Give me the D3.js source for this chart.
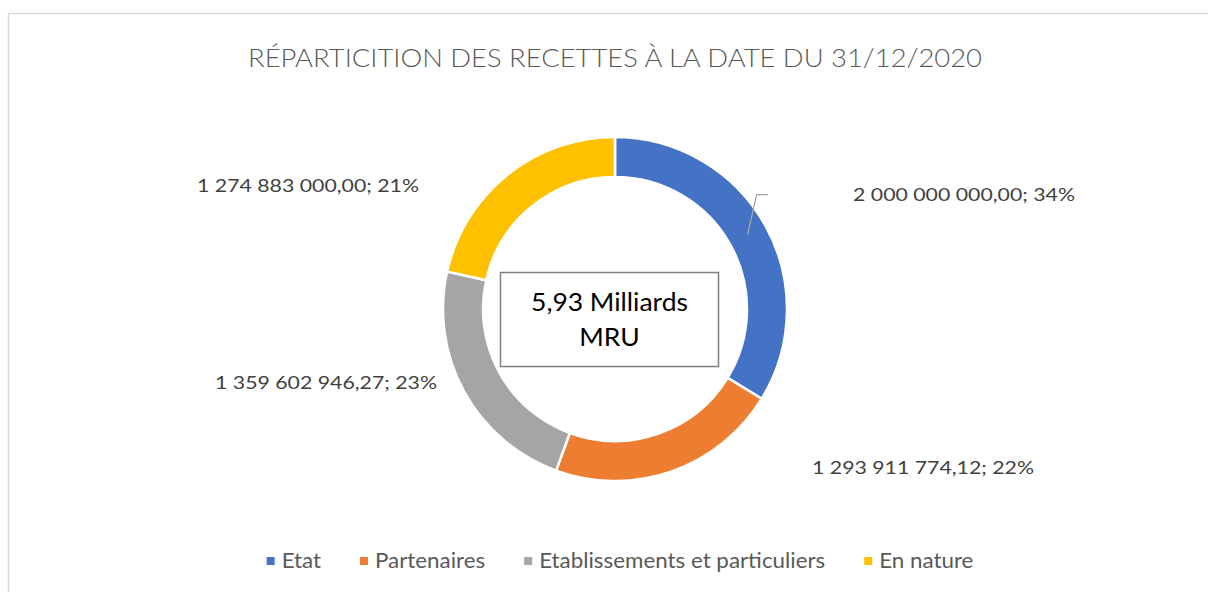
<!DOCTYPE html>
<html><head><meta charset="utf-8">
<script src="https://cdn.jsdelivr.net/npm/d3@7"></script>
<style>html,body{margin:0;padding:0;background:#fff;}svg{display:block;}</style>
</head><body>
<script>
const categories = ["Etat", "Partenaires", "Etablissements et particuliers", "En nature"];
const values = [2000000000.00, 1293911774.12, 1359602946.27, 1274883000.00];
const valueLabels = ["2 000 000 000,00", "1 293 911 774,12", "1 359 602 946,27", "1 274 883 000,00"];
const percentLabels = ["34%", "22%", "23%", "21%"];
const colors = ["#4472C4", "#ED7D31", "#A5A5A5", "#FFC000"];
const titleText = "RÉPARTICITION DES RECETTES À LA DATE DU 31/12/2020";
const centerLines = ["5,93 Milliards", "MRU"];

// layout (not data)
const W = 1208, H = 592;
const cx = 615, cy = 309, R = 172, r = 132;
// label placement: [anchor, dx, dy] relative to chart centre
const labelLayout = [["start", 238, -108], ["start", 197, 165], ["end", -178, 80], ["end", -196, -117]];

const svg = d3.select("body").append("svg").attr("width", W).attr("height", H);
svg.append("rect").attr("width", W).attr("height", H).attr("fill", "#fff");
svg.append("rect").attr("x", 8.5).attr("y", 13.5).attr("width", 1240).attr("height", 640)
  .attr("fill", "none").attr("stroke", "#d9d9d9").attr("stroke-width", 1.5);

svg.append("text").attr("x", 615).attr("y", 67).attr("text-anchor", "middle")
  .attr("font-family", "Lato, 'Open Sans', sans-serif").attr("font-weight", 300)
  .attr("font-size", 25).attr("fill", "#595959").attr("textLength", 734).attr("lengthAdjust", "spacingAndGlyphs")
  .text(titleText);

const pie = d3.pie().sort(null).value(d => d);
const arcs = pie(values);
const arc = d3.arc().innerRadius(r).outerRadius(R);
const g = svg.append("g").attr("transform", `translate(${cx},${cy})`);
g.selectAll("path.slice").data(arcs).join("path").attr("class", "slice")
  .attr("d", arc).attr("fill", (d, i) => colors[i]).attr("stroke", "#fff").attr("stroke-width", 2.5);

// leader line for first slice
const c0 = arc.centroid(arcs[0]);
g.append("polyline")
  .attr("points", [[c0[0], c0[1]], [c0[0] + 9, c0[1] - 40], [c0[0] + 20.5, c0[1] - 40]].map(p => p.join(",")).join(" "))
  .attr("fill", "none").attr("stroke", "#a6a6a6").attr("stroke-width", 1.3);

g.selectAll("text.lbl").data(arcs).join("text").attr("class", "lbl")
  .attr("x", (d, i) => labelLayout[i][1]).attr("y", (d, i) => labelLayout[i][2])
  .attr("text-anchor", (d, i) => labelLayout[i][0])
  .attr("font-family", "Lato, 'Open Sans', sans-serif").attr("font-size", 16.5).attr("fill", "#404040")
  .attr("textLength", 222).attr("lengthAdjust", "spacingAndGlyphs")
  .text((d, i) => valueLabels[i] + "; " + percentLabels[i]);

// centre box
svg.append("rect").attr("x", 500.5).attr("y", 272.5).attr("width", 218).attr("height", 94)
  .attr("fill", "#fff").attr("stroke", "#7f7f7f").attr("stroke-width", 1.5);
svg.selectAll("text.ctr").data(centerLines).join("text").attr("class", "ctr")
  .attr("x", 609.5).attr("y", (d, i) => 311 + i * 35).attr("text-anchor", "middle")
  .attr("font-family", "Lato, 'Open Sans', sans-serif").attr("font-size", 24.5).attr("fill", "#000")
  .each(function (d) {
    const t = d3.select(this).text(d);
    const w = this.getComputedTextLength() * 1.08;
    t.attr("textLength", w).attr("lengthAdjust", "spacingAndGlyphs");
  });

// legend
const lg = svg.append("g");
const items = lg.selectAll("g").data(categories).join("g");
items.append("rect").attr("width", 8).attr("height", 8).attr("y", -11).attr("fill", (d, i) => colors[i]);
items.append("text").attr("x", 15).attr("y", 0)
  .attr("font-family", "Lato, 'Open Sans', sans-serif").attr("font-size", 20.5).attr("fill", "#595959")
  .text(d => d);
let x = 0;
const xs = [];
items.each(function () {
  xs.push(x);
  const t = d3.select(this).select("text");
  const tw = t.node().getComputedTextLength() * 1.09;
  t.attr("textLength", tw).attr("lengthAdjust", "spacingAndGlyphs");
  x += 15 + tw + 39;
});
const total = x - 39;
const x0 = 620 - total / 2;
items.attr("transform", (d, i) => `translate(${x0 + xs[i]},568)`);
</script>
</body></html>
